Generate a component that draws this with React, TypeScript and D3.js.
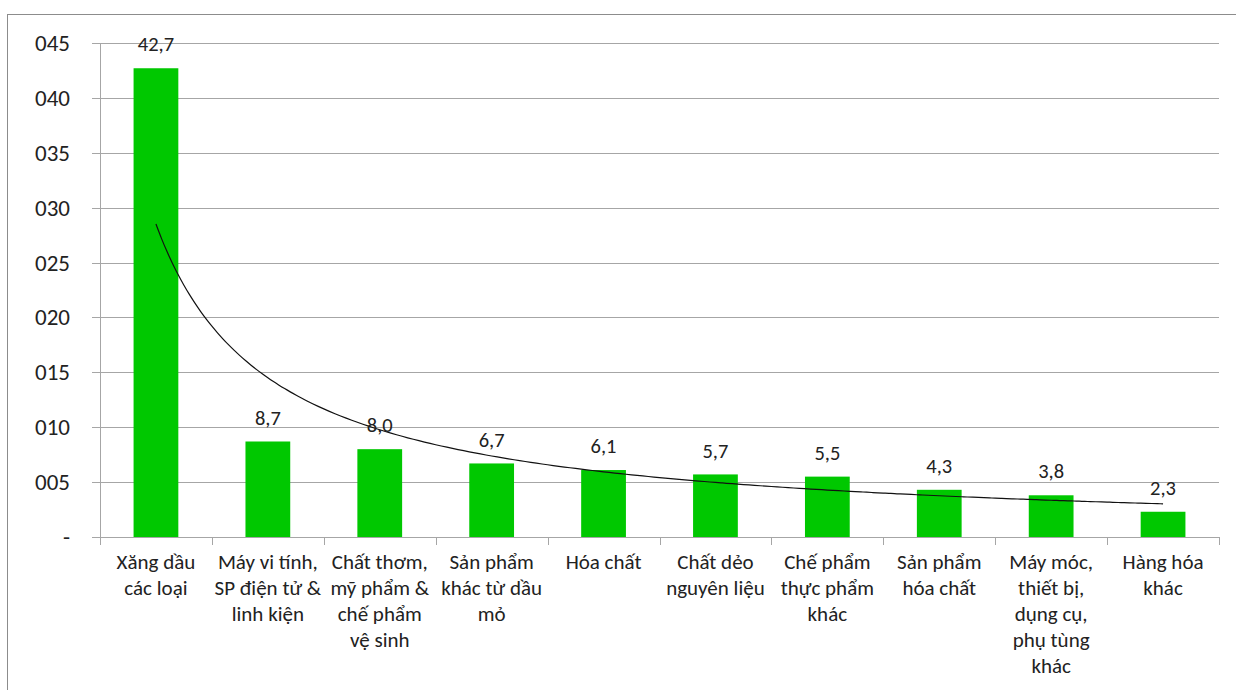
import React, { useEffect, useRef } from 'react';
import * as d3 from 'd3';

const categories = [
  'Xăng dầu\ncác loại',
  'Máy vi tính,\nSP điện tử &\nlinh kiện',
  'Chất thơm,\nmỹ phẩm &\nchế phẩm\nvệ sinh',
  'Sản phẩm\nkhác từ dầu\nmỏ',
  'Hóa chất',
  'Chất dẻo\nnguyên liệu',
  'Chế phẩm\nthực phẩm\nkhác',
  'Sản phẩm\nhóa chất',
  'Máy móc,\nthiết bị,\ndụng cụ,\nphụ tùng\nkhác',
  'Hàng hóa\nkhác',
];
const values = [42.7, 8.7, 8.0, 6.7, 6.1, 5.7, 5.5, 4.3, 3.8, 2.3];
const yTicks = [0, 5, 10, 15, 20, 25, 30, 35, 40, 45];
const yTickLabels = ['-', '005', '010', '015', '020', '025', '030', '035', '040', '045'];

const font = 'Carlito, "Open Sans", "Noto Sans", sans-serif';

function App() {
  const ref = useRef<any>(null);
  const dimensions = { width: 1236, height: 690 };
  const margin = { left: 100, right: 17, top: 43, bottom: 153 };

  useEffect(() => {
    const svg = d3.select(ref.current).attr('width', dimensions.width).attr('height', dimensions.height);
    svg.selectAll('*').remove();

    // chart border
    svg
      .append('rect')
      .attr('x', 7.5)
      .attr('y', 14.5)
      .attr('width', 1240)
      .attr('height', 700)
      .attr('fill', 'white')
      .attr('stroke', '#8c8c8c');

    const x = d3
      .scaleBand()
      .domain(categories)
      .range([margin.left, dimensions.width - margin.right])
      .paddingInner(0.6)
      .paddingOuter(0.3);

    const y = d3
      .scaleLinear()
      .domain([0, 45])
      .range([dimensions.height - margin.bottom, margin.top]);

    // grid
    svg
      .append('g')
      .selectAll('line')
      .data(yTicks)
      .join('line')
      .attr('x1', margin.left - 8)
      .attr('x2', dimensions.width - margin.right)
      .attr('y1', (d) => Math.round(y(d)) + 0.5)
      .attr('y2', (d) => Math.round(y(d)) + 0.5)
      .attr('stroke', '#a6a6a6');

    svg
      .append('g')
      .selectAll('text')
      .data(yTicks)
      .join('text')
      .attr('x', 70)
      .attr('y', (d) => y(d))
      .attr('dy', '0.35em')
      .attr('text-anchor', 'end')
      .style('font-family', font)
      .style('font-size', '23px')
      .attr('fill', '#222')
      .text((d, i) => yTickLabels[i]);

    // y axis line
    svg
      .append('line')
      .attr('x1', margin.left + 0.5)
      .attr('x2', margin.left + 0.5)
      .attr('y1', y(45))
      .attr('y2', y(0) + 8)
      .attr('stroke', '#a6a6a6');

    // x axis ticks at band boundaries
    const step = x.step();
    const bounds = d3.range(categories.length + 1).map((i) => margin.left + i * step);
    svg
      .append('g')
      .selectAll('line')
      .data(bounds)
      .join('line')
      .attr('x1', (d) => Math.round(d) + 0.5)
      .attr('x2', (d) => Math.round(d) + 0.5)
      .attr('y1', y(0))
      .attr('y2', y(0) + 8)
      .attr('stroke', '#a6a6a6');

    // bars
    svg
      .append('g')
      .selectAll('rect')
      .data(values)
      .join('rect')
      .attr('x', (d, i) => x(categories[i]))
      .attr('y', (d) => y(d))
      .attr('width', x.bandwidth())
      .attr('height', (d) => y(0) - y(d))
      .attr('fill', '#00c800');

    // trendline (power fit)
    const lx = values.map((d, i) => Math.log(i + 1));
    const ly = values.map((d) => Math.log(d));
    const mx = d3.mean(lx) as number;
    const my = d3.mean(ly) as number;
    const b =
      d3.sum(lx.map((v, i) => (v - mx) * (ly[i] - my))) / d3.sum(lx.map((v) => (v - mx) * (v - mx)));
    const a = Math.exp(my - b * mx);
    const pts = d3.range(1, categories.length + 0.001, 0.05).map((t) => [t, a * Math.pow(t, b)]);
    const cx = (t: number) => margin.left + (t - 0.5) * step;
    const line: any = d3
      .line()
      .x((d: any) => cx(d[0]))
      .y((d: any) => y(d[1]))
      .curve(d3.curveMonotoneX);
    svg
      .append('path')
      .datum(pts)
      .attr('d', line)
      .attr('fill', 'none')
      .attr('stroke', '#111')
      .attr('stroke-width', 1.2);

    // value labels
    svg
      .append('g')
      .selectAll('text')
      .data(values)
      .join('text')
      .attr('x', (d, i) => (x(categories[i]) as number) + x.bandwidth() / 2)
      .attr('y', (d) => y(d) - 24)
      .attr('dy', '0.35em')
      .attr('text-anchor', 'middle')
      .style('font-family', font)
      .style('font-size', '20.5px')
      .attr('fill', '#222')
      .text((d) => d.toFixed(1).replace('.', ','));

    // category labels
    const cat = svg
      .append('g')
      .selectAll('text')
      .data(categories)
      .join('text')
      .attr('x', (d) => (x(d) as number) + x.bandwidth() / 2)
      .attr('y', y(0) + 25)
      .attr('text-anchor', 'middle')
      .style('font-family', font)
      .style('font-size', '21px')
      .attr('fill', '#222');
    cat
      .selectAll('tspan')
      .data((d) => d.split('\n'))
      .join('tspan')
      .attr('x', function () {
        return (this as any).parentNode.getAttribute('x');
      })
      .attr('dy', (d, i) => (i === 0 ? '0.35em' : '26px'))
      .text((d) => d);
  });

  return (
    <div style={{ position: 'absolute', left: 0, top: 0 }}>
      <svg ref={ref}></svg>
    </div>
  );
}

export default App;
